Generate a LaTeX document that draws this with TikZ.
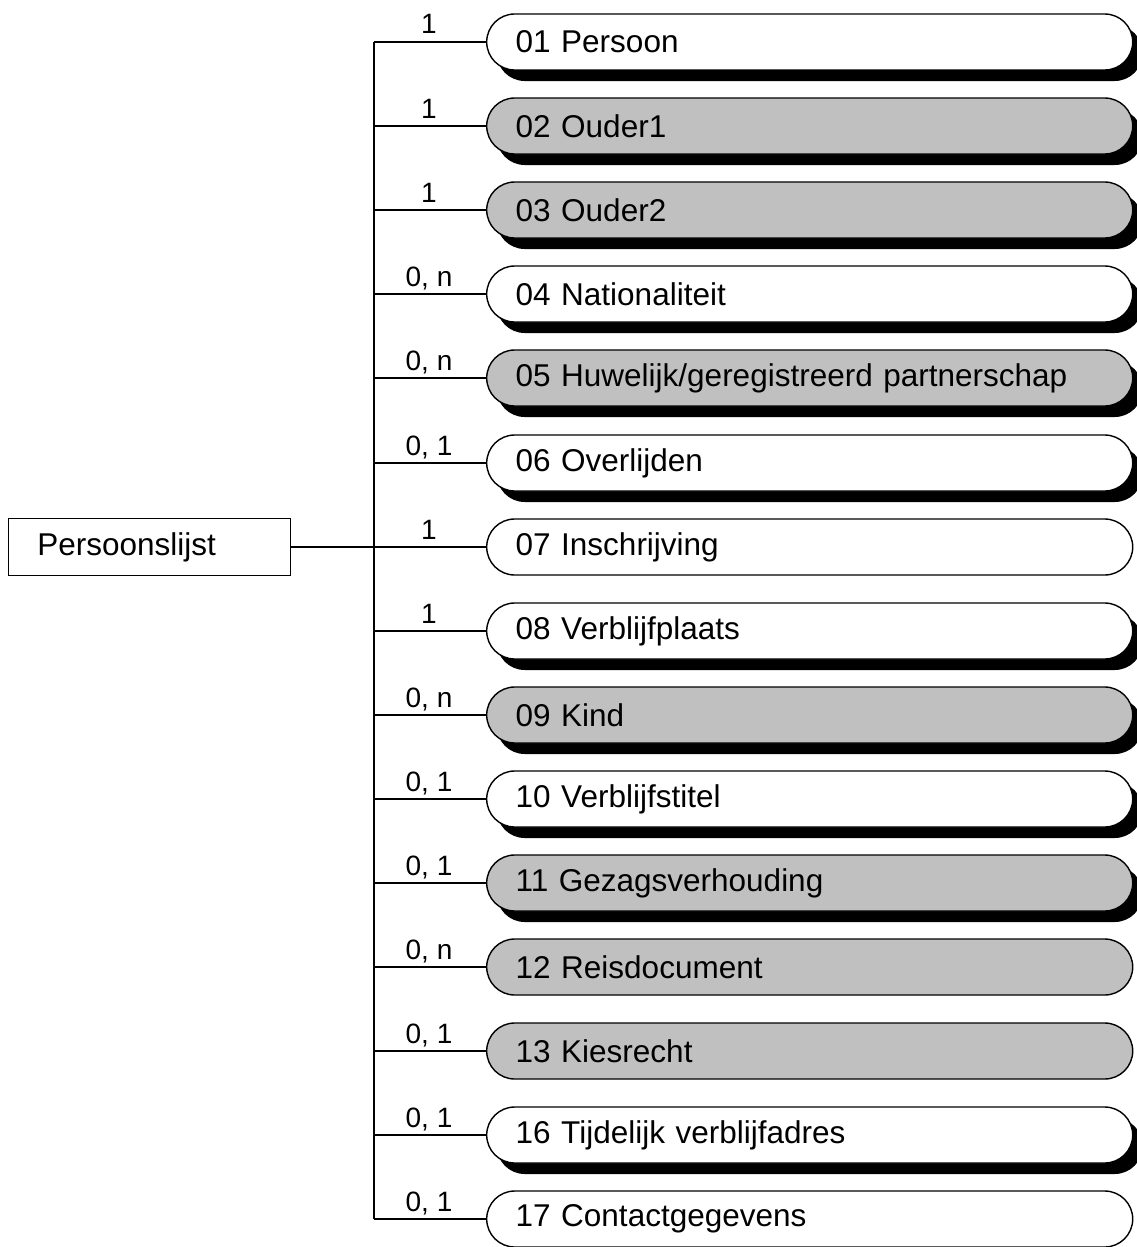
\documentclass[tikz,border=0pt]{standalone}
\usepackage{fontspec}
\setmainfont{Liberation Sans}
\usetikzlibrary{shadows}
\definecolor{boxgray}{HTML}{C0C0C0}
\tikzset{
  x=1pt, y=-1pt,
  entity/.style={draw=black, line width=1.4pt, rounded corners=28pt, rectangle,
    minimum height=56pt, inner xsep=29pt, inner ysep=0pt, text width=588pt, align=left,
    anchor=west, font=\fontsize{31.5}{36}\selectfont, fill=white},
  shad/.style={drop shadow={shadow xshift=10pt, shadow yshift=-11pt, opacity=1, fill=black}},
  ws/.style={shad},
  gs/.style={fill=boxgray, shad},
  wn/.style={},
  gn/.style={fill=boxgray},
  root/.style={draw=black, line width=1.2pt, rectangle, minimum height=57pt, minimum width=282pt,
    inner xsep=29pt, text width=224pt, align=left, font=\fontsize{31.5}{36}\selectfont},
  conn/.style={line width=2pt},
  card/.style={anchor=base, font=\fontsize{28}{32}\selectfont, inner sep=0pt},
}
\begin{document}
\begin{tikzpicture}
\useasboundingbox (0,0) rectangle (1137,1247);
% rows
\foreach \i/\txt/\sty [count=\k from 0] in {
  01/01 Persoon/ws,
  02/02 Ouder1/gs,
  03/03 Ouder2/gs,
  04/04 Nationaliteit/ws,
  05/05 Huwelijk\slash geregistreerd partnerschap/gs,
  06/06 Overlijden/ws,
  07/07 Inschrijving/wn,
  08/08 Verblijfplaats/ws,
  09/09 Kind/gs,
  10/10 Verblijfstitel/ws,
  11/11 Gezagsverhouding/gs,
  12/12 Reisdocument/gn,
  13/13 Kiesrecht/gn,
  16/16 Tijdelijk verblijfadres/ws,
  17/17 Contactgegevens/wn}{
  \pgfmathsetmacro{\yy}{round(42+84.1*\k)}
  \coordinate (t\i) at (374,\yy);
  \node[entity,\sty] (b\i) at (486,\yy) {\txt};
}
\foreach \i/\c in {01/1,02/1,03/1,04/{0, n},05/{0, n},06/{0, 1},07/1,08/1,09/{0, n},10/{0, 1},11/{0, 1},12/{0, n},13/{0, 1},16/{0, 1},17/{0, 1}}{
  \draw[conn] (t\i) -- (b\i.west);
  \path (t\i) ++(55,-8) node[card] (c\i) {\c};
}
\draw[conn] (t01) -- (t17);
\path (t07) ++(-83,0) node[root, anchor=east] (pl) {Persoonslijst};
\draw[conn] (pl.east) -- (t07);
\end{tikzpicture}
\end{document}
